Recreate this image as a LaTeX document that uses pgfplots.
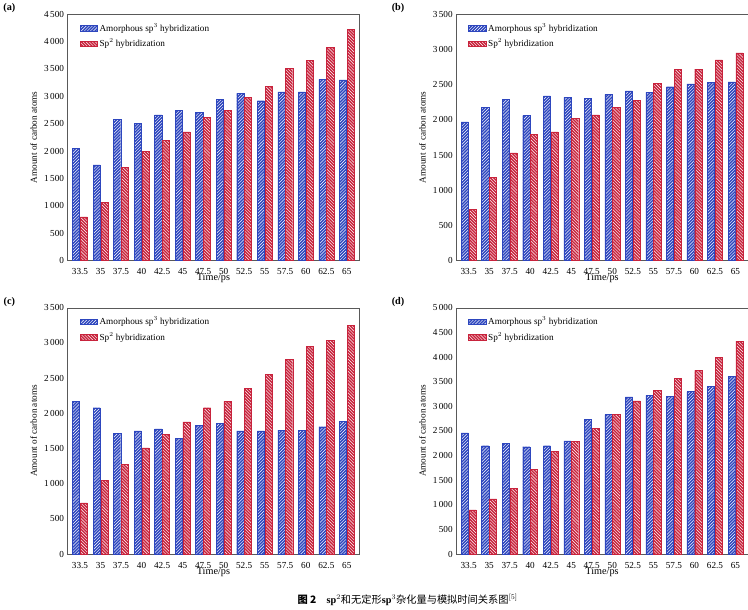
\documentclass[border=0pt]{standalone}
\usepackage{pgfplots}
\pgfplotsset{compat=1.18}
\usepgfplotslibrary{groupplots}
\usetikzlibrary{patterns,calc}
\usepackage{fontspec}
\setmainfont{Liberation Serif}
\newfontfamily\cjk{Noto Sans CJK SC}
\definecolor{bb}{RGB}{45,70,190}
\definecolor{rr}{RGB}{200,35,60}
\begin{document}
\begin{tikzpicture}
\pgfplotsset{
  every axis/.append style={font=\fontsize{9}{10}\selectfont},
  bl/.style={draw=bb, fill=bb, postaction={pattern=north east lines, pattern color=white}},
  rd/.style={draw=rr, fill=rr, postaction={pattern=north west lines, pattern color=white}},
}
\begin{groupplot}[
  group style={group size=2 by 2, horizontal sep=95pt, vertical sep=46pt},
  width=285pt, height=241pt, scale only axis,
  ybar=0.6pt, /pgf/bar width=7pt,
  xmin=-0.6, xmax=13.6, ymin=0,
  xtick={0,...,13},
  xticklabels={33.5,35,37.5,40,42.5,45,47.5,50,52.5,55,57.5,60,62.5,65},
  ytick distance=500,
  /pgf/number format/assume math mode=true,
  /pgf/number format/1000 sep={\,},
  tick style={draw=none},
  axis line style={gray!70!black},
  xlabel={Time/ps}, ylabel={Amount of carbon atoms},
  xlabel style={yshift=8pt, font=\fontsize{10}{11}\selectfont},
  ylabel style={font=\fontsize{9}{10}\selectfont},
  legend style={draw=none, fill=none, at={(0.03,0.98)}, anchor=north west, font=\fontsize{9}{10}\selectfont, row sep=2pt},
  legend cell align=left,
  area legend,
]
\nextgroupplot[ymax=4500, title={\textbf{(a)}}, title style={at={(-0.2,1)}, anchor=center, font=\bfseries\fontsize{10}{11}\selectfont}]
\addplot[bl] coordinates {(0,2050)(1,1750)(2,2580)(3,2510)(4,2660)(5,2740)(6,2710)(7,2940)(8,3060)(9,2920)(10,3080)(11,3080)(12,3310)(13,3300)};
\addplot[rd] coordinates {(0,800)(1,1060)(2,1700)(3,2000)(4,2200)(5,2350)(6,2620)(7,2750)(8,2980)(9,3180)(10,3510)(11,3660)(12,3900)(13,4220)};
\legend{Amorphous sp$^3$ hybridization, Sp$^2$ hybridization}
\nextgroupplot[ymax=3500, title={\textbf{(b)}}, title style={at={(-0.2,1)}, anchor=center, font=\bfseries\fontsize{10}{11}\selectfont}]
\addplot[bl] coordinates {(0,1970)(1,2180)(2,2290)(3,2060)(4,2340)(5,2320)(6,2300)(7,2360)(8,2410)(9,2390)(10,2470)(11,2510)(12,2530)(13,2540)};
\addplot[rd] coordinates {(0,730)(1,1180)(2,1530)(3,1790)(4,1830)(5,2020)(6,2070)(7,2180)(8,2280)(9,2520)(10,2720)(11,2720)(12,2850)(13,2950)};
\legend{Amorphous sp$^3$ hybridization, Sp$^2$ hybridization}
\nextgroupplot[ymax=3500, title={\textbf{(c)}}, title style={at={(-0.2,1)}, anchor=center, font=\bfseries\fontsize{10}{11}\selectfont}]
\addplot[bl] coordinates {(0,2170)(1,2080)(2,1720)(3,1750)(4,1780)(5,1640)(6,1830)(7,1860)(8,1750)(9,1750)(10,1760)(11,1760)(12,1810)(13,1890)};
\addplot[rd] coordinates {(0,730)(1,1050)(2,1280)(3,1510)(4,1700)(5,1880)(6,2080)(7,2170)(8,2350)(9,2550)(10,2770)(11,2950)(12,3040)(13,3250)};
\legend{Amorphous sp$^3$ hybridization, Sp$^2$ hybridization}
\nextgroupplot[ymax=5000, title={\textbf{(d)}}, title style={at={(-0.2,1)}, anchor=center, font=\bfseries\fontsize{10}{11}\selectfont}]
\addplot[bl] coordinates {(0,2460)(1,2200)(2,2250)(3,2180)(4,2200)(5,2300)(6,2740)(7,2830)(8,3190)(9,3220)(10,3200)(11,3300)(12,3410)(13,3610)};
\addplot[rd] coordinates {(0,900)(1,1120)(2,1330)(3,1720)(4,2080)(5,2290)(6,2550)(7,2840)(8,3110)(9,3320)(10,3560)(11,3730)(12,3990)(13,4320)};
\legend{Amorphous sp$^3$ hybridization, Sp$^2$ hybridization}
\end{groupplot}
\node[anchor=north, font=\fontsize{10}{12}\selectfont] at ([yshift=-36pt]$(group c1r2.south east)!0.5!(group c2r2.south west)$) {{\cjk\bfseries 图 2}\quad \textbf{sp$^2$}{\cjk 和无定形}\textbf{sp$^3$}{\cjk 杂化量与模拟时间关系图}$^{[5]}$};
\end{tikzpicture}
\end{document}
